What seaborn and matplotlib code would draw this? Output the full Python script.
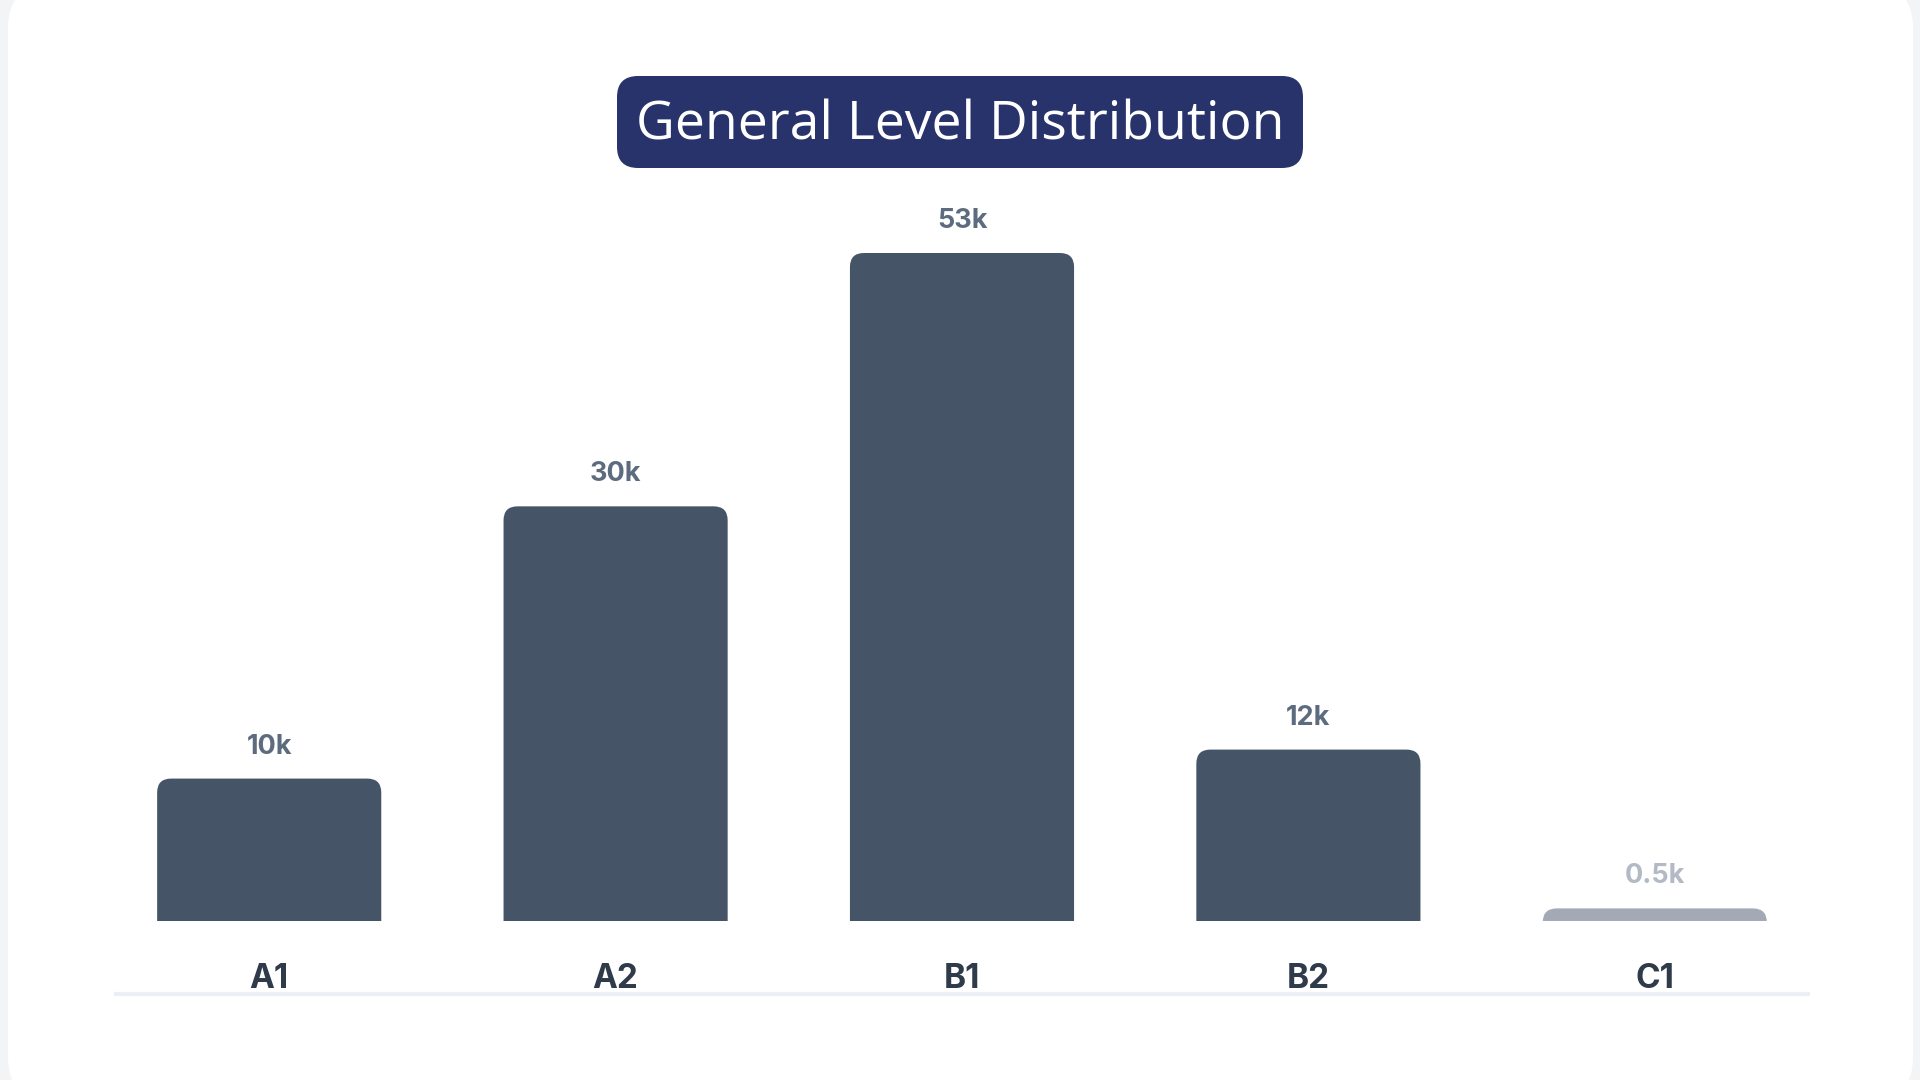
import pandas as pd
import matplotlib
matplotlib.use("Agg")
import matplotlib.pyplot as plt
import seaborn as sns
from matplotlib.patches import FancyBboxPatch
from matplotlib.lines import Line2D

# data (bar heights in thousands) + shown labels
levels = ["A1", "A2", "B1", "B2", "C1"]
counts_k = [11.3, 32.9, 53.0, 13.6, 1.0]
value_labels = ["10k", "30k", "53k", "12k", "0.5k"]
bar_colors = ["#465467", "#465467", "#465467", "#465467", "#a3aab5"]
label_colors = ["#5d6b7e", "#5d6b7e", "#5d6b7e", "#5d6b7e", "#b3bac5"]

TITLE = "General Level Distribution"

sns.set_theme(style="white")
plt.rcParams["font.family"] = ["Inter", "DejaVu Sans"]

W, H = 1920, 1080
fig = plt.figure(figsize=(19.2, 10.8), dpi=100)
fig.patch.set_facecolor("#f3f4f6")

# white card behind everything
card = FancyBboxPatch((8 / W, -20 / H), 1905 / W, 1115 / H,
                      boxstyle="round,pad=0,rounding_size=0.022",
                      transform=fig.transFigure, facecolor="white",
                      edgecolor="none", mutation_aspect=W / H, zorder=-10)
fig.patches.append(card)

# axes: baseline at y=921px, top at B1 bar top (253px)
ax_left, ax_right = 96, 1828
ax_bottom, ax_top = 921, 253
ax = fig.add_axes([ax_left / W, (H - ax_bottom) / H,
                   (ax_right - ax_left) / W, (ax_bottom - ax_top) / H])
ax.set_facecolor("none")
ax.set_zorder(2)

df = pd.DataFrame({"level": levels, "count_k": counts_k})
sns.barplot(data=df, x="level", y="count_k", width=0.647, ax=ax,
            color="#465467", saturation=1)

ax.set_xlim(-0.5, 4.5)
ax.set_ylim(0, max(counts_k))

# replace plain bars with rounded-top ones
px_x = 5 / (ax_right - ax_left)          # data x per pixel
px_y = max(counts_k) / (ax_bottom - ax_top)  # data y per pixel
radius_px = 14
for patch, col in zip(list(ax.patches), bar_colors):
    x0, w, h = patch.get_x(), patch.get_width(), patch.get_height()
    patch.set_visible(False)
    rb = FancyBboxPatch((x0, -radius_px * px_y), w, h + radius_px * px_y,
                        boxstyle=f"round,pad=0,rounding_size={radius_px * px_x}",
                        mutation_aspect=px_y / px_x,
                        facecolor=col, edgecolor="none", zorder=2)
    ax.add_patch(rb)

for i, (v, lab, c) in enumerate(zip(counts_k, value_labels, label_colors)):
    ax.annotate(lab, (i, v), xytext=(0, 23), textcoords="offset points",
                ha="center", va="center", fontsize=19.5, fontweight="bold",
                color=c, annotation_clip=False)

ax.set_xticks(range(len(levels)))
ax.set_xticklabels(levels, fontsize=24, fontweight="bold", color="#2f3a4a")
ax.tick_params(axis="x", length=0, pad=30)
ax.set_yticks([])
ax.set_xlabel("")
ax.set_ylabel("")
sns.despine(ax=ax, left=True, bottom=True)

# thin separator line under the labels
fig.add_artist(Line2D([114 / W, 1810 / W], [(H - 994) / H] * 2,
                      transform=fig.transFigure, color="#eceff5", lw=3,
                      solid_capstyle="butt"))

# title pill
pill = FancyBboxPatch((617 / W, (H - 168) / H), 686 / W, 92 / H,
                      boxstyle="round,pad=0,rounding_size=0.011",
                      transform=fig.transFigure, facecolor="#27336a",
                      edgecolor="none", mutation_aspect=W / H, zorder=1)
fig.patches.append(pill)
fig.text(960 / W, (H - 126) / H, TITLE, ha="center", va="center",
         fontsize=38.5, color="white", family=["Open Sans", "DejaVu Sans"],
         zorder=3)

fig.savefig("out.png", dpi=100, facecolor=fig.get_facecolor())
